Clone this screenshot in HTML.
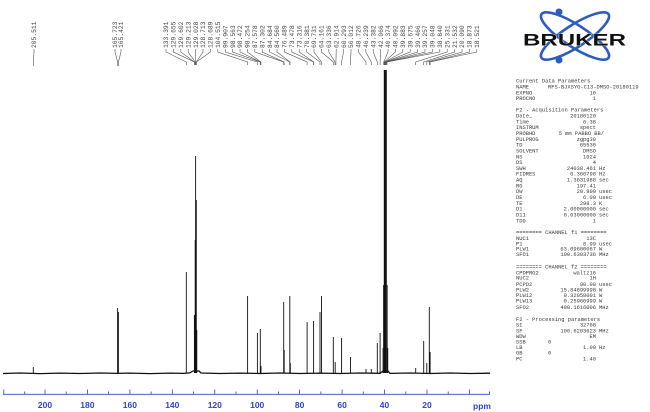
<!DOCTYPE html>
<html><head><meta charset="utf-8"><style>
html,body{margin:0;padding:0;background:#fff;}
svg{display:block;}
.lb{font-family:"Liberation Mono",monospace;font-size:6.3px;fill:#444;}
.pm{font-family:"Liberation Mono",monospace;font-size:5.4px;fill:#3a3a3a;}
.ax{font-family:"Liberation Sans",sans-serif;font-size:8.5px;font-weight:bold;fill:#2a45d0;}
</style></head><body>
<svg width="650" height="412" viewBox="0 0 650 412" xmlns="http://www.w3.org/2000/svg">
<!-- peak labels -->
<g class="lb">
<text transform="translate(36.2,48) rotate(-90)">205.511</text>
<text transform="translate(117.2,48) rotate(-90)">165.723</text>
<text transform="translate(123.2,48) rotate(-90)">165.421</text>
<text transform="translate(168.2,48) rotate(-90)">133.391</text>
<text transform="translate(175.6,48) rotate(-90)">129.655</text>
<text transform="translate(183.0,48) rotate(-90)">129.602</text>
<text transform="translate(190.4,48) rotate(-90)">129.213</text>
<text transform="translate(197.8,48) rotate(-90)">129.028</text>
<text transform="translate(205.2,48) rotate(-90)">128.713</text>
<text transform="translate(212.6,48) rotate(-90)">128.689</text>
<text transform="translate(220.0,48) rotate(-90)">104.515</text>
<text transform="translate(227.4,48) rotate(-90)">99.907</text>
<text transform="translate(234.8,48) rotate(-90)">98.563</text>
<text transform="translate(242.2,48) rotate(-90)">98.472</text>
<text transform="translate(249.6,48) rotate(-90)">98.254</text>
<text transform="translate(257.0,48) rotate(-90)">87.578</text>
<text transform="translate(264.4,48) rotate(-90)">87.302</text>
<text transform="translate(271.8,48) rotate(-90)">84.684</text>
<text transform="translate(279.2,48) rotate(-90)">84.560</text>
<text transform="translate(286.6,48) rotate(-90)">76.489</text>
<text transform="translate(294.0,48) rotate(-90)">73.478</text>
<text transform="translate(301.4,48) rotate(-90)">73.316</text>
<text transform="translate(308.8,48) rotate(-90)">70.381</text>
<text transform="translate(316.2,48) rotate(-90)">69.731</text>
<text transform="translate(323.6,48) rotate(-90)">64.161</text>
<text transform="translate(331.0,48) rotate(-90)">63.336</text>
<text transform="translate(338.4,48) rotate(-90)">62.914</text>
<text transform="translate(345.8,48) rotate(-90)">60.293</text>
<text transform="translate(353.2,48) rotate(-90)">56.012</text>
<text transform="translate(360.6,48) rotate(-90)">48.726</text>
<text transform="translate(368.0,48) rotate(-90)">46.239</text>
<text transform="translate(375.4,48) rotate(-90)">43.382</text>
<text transform="translate(382.8,48) rotate(-90)">42.066</text>
<text transform="translate(390.2,48) rotate(-90)">40.374</text>
<text transform="translate(397.6,48) rotate(-90)">40.092</text>
<text transform="translate(405.0,48) rotate(-90)">39.883</text>
<text transform="translate(412.4,48) rotate(-90)">39.675</text>
<text transform="translate(419.8,48) rotate(-90)">39.466</text>
<text transform="translate(427.2,48) rotate(-90)">39.257</text>
<text transform="translate(434.6,48) rotate(-90)">39.048</text>
<text transform="translate(442.0,48) rotate(-90)">38.840</text>
<text transform="translate(449.4,48) rotate(-90)">25.331</text>
<text transform="translate(456.8,48) rotate(-90)">21.532</text>
<text transform="translate(464.2,48) rotate(-90)">20.090</text>
<text transform="translate(471.6,48) rotate(-90)">18.873</text>
<text transform="translate(479.0,48) rotate(-90)">18.521</text>
</g>
<!-- connectors -->
<g fill="none" stroke="#555" stroke-width="0.6">
<path d="M34,49V52L33.3,62V66"/>
<path d="M115,49V52L117.7,62V66"/>
<path d="M121,49V52L118.4,62V66"/>
<path d="M166,49V52L186.3,62V65"/>
<path d="M173.4,49V52L194.3,62V65"/>
<path d="M180.8,49V52L194.4,62V65"/>
<path d="M188.2,49V52L195.2,62V65"/>
<path d="M195.6,49V52L195.6,62V65"/>
<path d="M203,49V52L196.3,62V65"/>
<path d="M210.4,49V52L196.3,62V65"/>
<path d="M217.8,49V52L247.6,62V65"/>
<path d="M225.2,49V52L257.4,62V65"/>
<path d="M232.6,49V52L260.2,62V65"/>
<path d="M240,49V52L260.4,62V65"/>
<path d="M247.4,49V52L260.9,62V65"/>
<path d="M254.8,49V52L283.6,62V65"/>
<path d="M262.2,49V52L284.1,62V65"/>
<path d="M269.6,49V52L289.7,62V65"/>
<path d="M277,49V52L290,62V65"/>
<path d="M284.4,49V52L307.1,62V65"/>
<path d="M291.8,49V52L313.5,62V65"/>
<path d="M299.2,49V52L313.8,62V65"/>
<path d="M306.6,49V52L320,62V65"/>
<path d="M314,49V52L321.4,62V65"/>
<path d="M321.4,49V52L333.3,62V65"/>
<path d="M328.8,49V52L335,62V65"/>
<path d="M336.2,49V52L335.9,62V65"/>
<path d="M343.6,49V52L341.5,62V65"/>
<path d="M351,49V52L350.5,62V65"/>
<path d="M358.4,49V52L366,62V65"/>
<path d="M365.8,49V52L371.3,62V65"/>
<path d="M373.2,49V52L377.3,62V65"/>
<path d="M380.6,49V52L380.1,62V65"/>
<path d="M388,49V52L383.7,62V65"/>
<path d="M395.4,49V52L384.3,62V65"/>
<path d="M402.8,49V52L384.8,62V65"/>
<path d="M410.2,49V52L385.2,62V65"/>
<path d="M417.6,49V52L385.7,62V65"/>
<path d="M425,49V52L386.1,62V65"/>
<path d="M432.4,49V52L386.6,62V65"/>
<path d="M439.8,49V52L387,62V65"/>
<path d="M447.2,49V52L415.7,62V65"/>
<path d="M454.6,49V52L423.7,62V65"/>
<path d="M462,49V52L426.8,62V65"/>
<path d="M469.4,49V52L429.3,62V65"/>
<path d="M476.8,49V52L430.1,62V65"/>
</g>
<!-- spectrum -->
<g stroke="#111" fill="none">
<path stroke-width="1.3" d="M3,373.5L20,373L40,373.6L60,373.1L80,373.5L100,373L117,373.4L130,373.1L150,373.6L170,373.1L184,373.4L190,372.8L193,371L199,371L201,373L220,373.5L240,373.1L260,373.5L280,373L300,373.5L320,373.1L340,373.5L360,373L380,373.3L383,371L388,371L390,373.4L410,373L430,373.5L450,373L470,373.5L490,373.2"/>
<g stroke-width="0.9">
<path d="M33.3,373V367"/>
<path d="M117.6,373V308M118.4,373V312"/>
<path d="M186.3,373V272"/>
<path d="M194.4,373V315M195.2,373V240M195.6,373V156M196.3,373V200M196.8,373V330"/>
<path d="M247.6,373V296"/>
<path d="M257.4,373V333M260.3,373V329M261,373V366"/>
<path d="M283.7,373V302M284.2,373V350"/>
<path d="M289.8,373V296M290.3,373V363"/>
<path d="M307.1,373V322"/>
<path d="M313.6,373V321"/>
<path d="M320,373V312M321.5,373V296"/>
<path d="M333.3,373V337M335.2,373V362"/>
<path d="M341.6,373V338"/>
<path d="M350.5,373V357"/>
<path d="M366,373V369M371.3,373V369"/>
<path d="M377.3,373V343M380.1,373V333"/>
<path d="M415.7,373V368"/>
<path d="M423.7,373V341"/>
<path d="M426.8,373V363"/>
<path d="M429.3,373V307M430.1,373V352"/>
</g>
<path stroke-width="1.6" d="M384.6,373V70M386,373V70"/>
<path stroke-width="0.8" d="M383.5,373V285M387.2,373V285M383,373V348M387.8,373V348"/>
</g>
<!-- axis -->
<g stroke="#2a45d0" stroke-width="0.8">
<path d="M3,394.3H490"/>
<path d="M45,394V389.5M87.4,394V389.5M129.9,394V389.5M172.3,394V389.5M214.8,394V389.5M257.2,394V389.5M299.6,394V389.5M342.1,394V389.5M384.5,394V389.5M427,394V389.5M469.4,394V389.5M3.8,394V389.5"/>
<path d="M24.7,394V391.5M66.2,394V391.5M108.6,394V391.5M151.1,394V391.5M193.5,394V391.5M236,394V391.5M278.4,394V391.5M320.9,394V391.5M363.3,394V391.5M405.8,394V391.5M448.2,394V391.5M489.5,394V391.5"/>
</g>
<g class="ax" text-anchor="middle">
<text x="45" y="408">200</text><text x="87.4" y="408">180</text><text x="129.9" y="408">160</text>
<text x="172.3" y="408">140</text><text x="214.8" y="408">120</text><text x="257.2" y="408">100</text>
<text x="299.6" y="408">80</text><text x="342.1" y="408">60</text><text x="384.5" y="408">40</text>
<text x="427" y="408">20</text><text x="482" y="409">ppm</text>
</g>
<!-- logo -->
<g fill="none" stroke="#2d5bbf" stroke-width="2.6">
<ellipse cx="575" cy="36" rx="40" ry="11" transform="rotate(33 575 36)"/>
<ellipse cx="575" cy="36" rx="40" ry="11" transform="rotate(-33 575 36)"/>
</g>
<circle cx="559" cy="12" r="3.5" fill="#2d5bbf"/>
<circle cx="559" cy="60" r="3.5" fill="#2d5bbf"/>
<rect x="522" y="30" width="106" height="17" fill="#fff" opacity="0"/>
<text x="523" y="45.5" textLength="103" lengthAdjust="spacingAndGlyphs" style="font-family:'Liberation Sans',sans-serif;font-weight:bold;font-size:17px;fill:#111;stroke:#fff;stroke-width:0.6;paint-order:stroke">BRUKER</text>
<!-- parameters -->
<g class="pm">
<text x="516" y="82.7">Current Data Parameters</text>
<text x="516" y="88.5">NAME</text><text x="548" y="88.5">RFS-BJXSYG-C13-DMSO-20180119</text>
<text x="516" y="94.3">EXPNO</text><text x="596" y="94.3" text-anchor="end">10</text>
<text x="516" y="100.1">PROCNO</text><text x="596" y="100.1" text-anchor="end">1</text>
<text x="516" y="111.7">F2 - Acquisition Parameters</text>
<text x="516" y="117.5">Date_</text><text x="596" y="117.5" text-anchor="end">20180120</text>
<text x="516" y="123.3">Time</text><text x="596" y="123.3" text-anchor="end">6.38</text>
<text x="516" y="129.2">INSTRUM</text><text x="596" y="129.2" text-anchor="end">spect</text>
<text x="516" y="135">PROBHD</text><text x="604" y="135" text-anchor="end">5 mm PABBO BB/</text>
<text x="516" y="140.8">PULPROG</text><text x="596" y="140.8" text-anchor="end">zgpg30</text>
<text x="516" y="146.6">TD</text><text x="596" y="146.6" text-anchor="end">65536</text>
<text x="516" y="152.4">SOLVENT</text><text x="596" y="152.4" text-anchor="end">DMSO</text>
<text x="516" y="158.3">NS</text><text x="596" y="158.3" text-anchor="end">1024</text>
<text x="516" y="164.1">DS</text><text x="596" y="164.1" text-anchor="end">4</text>
<text x="516" y="169.9">SWH</text><text x="596" y="169.9" text-anchor="end">24038.461</text><text x="599" y="169.9">Hz</text>
<text x="516" y="175.7">FIDRES</text><text x="596" y="175.7" text-anchor="end">0.366798</text><text x="599" y="175.7">Hz</text>
<text x="516" y="181.5">AQ</text><text x="596" y="181.5" text-anchor="end">1.3631988</text><text x="599" y="181.5">sec</text>
<text x="516" y="187.4">RG</text><text x="596" y="187.4" text-anchor="end">197.41</text>
<text x="516" y="193.2">DW</text><text x="596" y="193.2" text-anchor="end">20.800</text><text x="599" y="193.2">usec</text>
<text x="516" y="199">DE</text><text x="596" y="199" text-anchor="end">6.00</text><text x="599" y="199">usec</text>
<text x="516" y="204.8">TE</text><text x="596" y="204.8" text-anchor="end">298.3</text><text x="599" y="204.8">K</text>
<text x="516" y="210.6">D1</text><text x="596" y="210.6" text-anchor="end">2.00000000</text><text x="599" y="210.6">sec</text>
<text x="516" y="216.5">D11</text><text x="596" y="216.5" text-anchor="end">0.03000000</text><text x="599" y="216.5">sec</text>
<text x="516" y="222.3">TD0</text><text x="596" y="222.3" text-anchor="end">1</text>
<text x="516" y="234">======== CHANNEL f1 ========</text>
<text x="516" y="239.8">NUC1</text><text x="596" y="239.8" text-anchor="end">13C</text>
<text x="516" y="245.3">P1</text><text x="596" y="245.3" text-anchor="end">8.99</text><text x="599" y="245.3">usec</text>
<text x="516" y="250.7">PLW1</text><text x="596" y="250.7" text-anchor="end">63.09600067</text><text x="599" y="250.7">W</text>
<text x="516" y="256">SFO1</text><text x="596" y="256" text-anchor="end">100.6303736</text><text x="599" y="256">MHz</text>
<text x="516" y="268.7">======== CHANNEL f2 ========</text>
<text x="516" y="274.3">CPDPRG2</text><text x="596" y="274.3" text-anchor="end">waltz16</text>
<text x="516" y="279.7">NUC2</text><text x="596" y="279.7" text-anchor="end">1H</text>
<text x="516" y="286">PCPD2</text><text x="596" y="286" text-anchor="end">90.00</text><text x="599" y="286">usec</text>
<text x="516" y="291.7">PLW2</text><text x="596" y="291.7" text-anchor="end">15.84899998</text><text x="599" y="291.7">W</text>
<text x="516" y="297">PLW12</text><text x="596" y="297" text-anchor="end">0.32058001</text><text x="599" y="297">W</text>
<text x="516" y="302.3">PLW13</text><text x="596" y="302.3" text-anchor="end">0.25966999</text><text x="599" y="302.3">W</text>
<text x="516" y="309">SFO2</text><text x="596" y="309" text-anchor="end">400.1616006</text><text x="599" y="309">MHz</text>
<text x="516" y="321">F2 - Processing parameters</text>
<text x="516" y="326.7">SI</text><text x="596" y="326.7" text-anchor="end">32768</text>
<text x="516" y="332.3">SF</text><text x="596" y="332.3" text-anchor="end">100.6203623</text><text x="599" y="332.3">MHz</text>
<text x="516" y="337.9">WDW</text><text x="596" y="337.9" text-anchor="end">EM</text>
<text x="516" y="343.5">SSB</text><text x="548" y="343.5">0</text>
<text x="516" y="349.1">LB</text><text x="596" y="349.1" text-anchor="end">1.00</text><text x="599" y="349.1">Hz</text>
<text x="516" y="354.7">GB</text><text x="548" y="354.7">0</text>
<text x="516" y="360.3">PC</text><text x="596" y="360.3" text-anchor="end">1.40</text>
</g>
</svg>
</body></html>
